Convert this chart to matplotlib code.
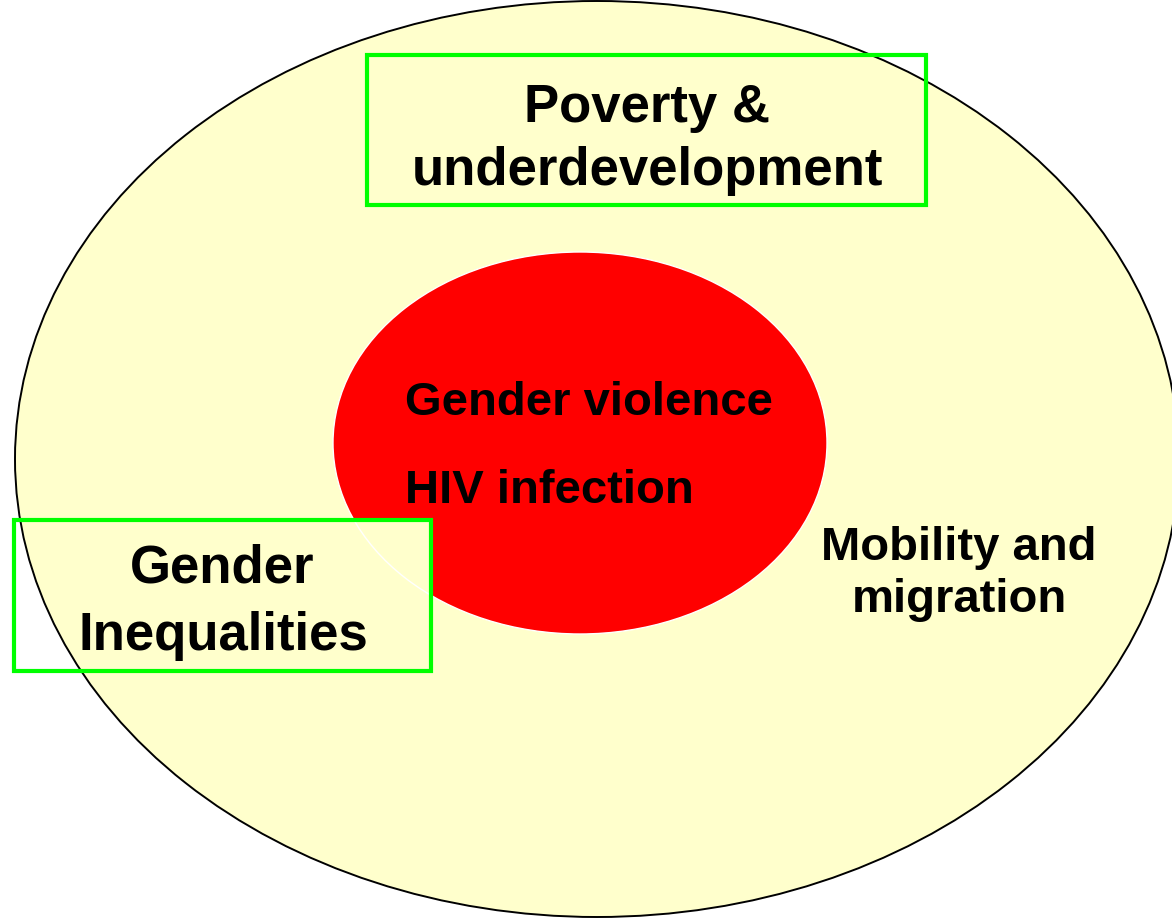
import matplotlib
matplotlib.use("Agg")
import matplotlib.pyplot as plt
from matplotlib.patches import Ellipse, Rectangle

# Diagram content
box_labels = ["Poverty &\nunderdevelopment", "Gender\nInequalities"]
core_labels = ["Gender violence", "HIV infection"]
side_label = "Mobility and\nmigration"

YELLOW = "#FFFFCC"
RED = "#FF0000"
GREEN = "#00FF00"

W, H = 1172, 920
fig = plt.figure(figsize=(W / 100, H / 100), dpi=100)
ax = fig.add_axes([0, 0, 1, 1])
ax.set_xlim(0, W)
ax.set_ylim(H, 0)
ax.axis("off")

font = dict(family="Liberation Sans", weight="bold", color="black")

# outer ellipse
outer = Ellipse((597, 460), 2 * 582, 2 * 458, facecolor=YELLOW, edgecolor="none", zorder=1)
ax.add_patch(outer)

# inner red ellipse
inner = Ellipse((580, 444), 2 * 247, 2 * 191, facecolor=RED, edgecolor="none", zorder=2)
ax.add_patch(inner)

# boxes: (x0, y0, x1, y1)
boxes = [(367, 56, 926, 206), (14, 521, 431, 672)]
for (x0, y0, x1, y1) in boxes:
    fill = Rectangle((x0, y0), x1 - x0, y1 - y0, facecolor=YELLOW, edgecolor="none", zorder=3)
    ax.add_patch(fill)
    fill.set_clip_path(outer)

# edges on top
ax.add_patch(Ellipse((580, 444), 2 * 247, 2 * 191, facecolor="none", edgecolor="white", lw=1.0, zorder=4))
ax.add_patch(Ellipse((597, 460), 2 * 582, 2 * 458, facecolor="none", edgecolor="black", lw=1.4, zorder=5))
for (x0, y0, x1, y1) in boxes:
    ax.add_patch(Rectangle((x0, y0), x1 - x0, y1 - y0, facecolor="none", edgecolor=GREEN, lw=3, zorder=6))

# texts
top_lines = box_labels[0].split("\n")
ax.text(647, 122, top_lines[0], ha="center", va="baseline", fontsize=38, zorder=7, **font)
ax.text(647, 185, top_lines[1], ha="center", va="baseline", fontsize=38, zorder=7, **font)

bl_lines = box_labels[1].split("\n")
ax.text(222, 583, bl_lines[0], ha="center", va="baseline", fontsize=38, zorder=7, **font)
ax.text(223, 650, bl_lines[1], ha="center", va="baseline", fontsize=38, zorder=7, **font)

ax.text(405, 415, core_labels[0], ha="left", va="baseline", fontsize=34, zorder=7, **font)
ax.text(405, 503, core_labels[1], ha="left", va="baseline", fontsize=34, zorder=7, **font)

side_lines = side_label.split("\n")
ax.text(959, 560, side_lines[0], ha="center", va="baseline", fontsize=34, zorder=7, **font)
ax.text(959, 612, side_lines[1], ha="center", va="baseline", fontsize=34, zorder=7, **font)

fig.savefig("out.png", dpi=100, facecolor="white")
